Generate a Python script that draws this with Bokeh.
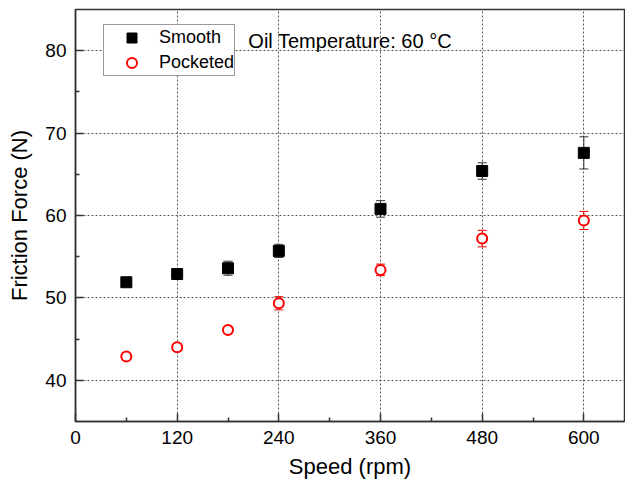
from bokeh.plotting import figure
from bokeh.models import (ColumnDataSource, Whisker, TeeHead, FixedTicker,
                          Legend, LegendItem, Label, Range1d)
from bokeh.embed import file_html
from bokeh.resources import INLINE

# Rotational speed (rpm)
speed = [60, 120, 180, 240, 360, 480, 600]

# Friction force (N) and standard deviation, smooth liner
smooth_force = [51.9, 52.9, 53.6, 55.7, 60.8, 65.4, 67.6]
smooth_err = [0.3, 0.3, 0.85, 0.8, 1.0, 1.0, 1.95]

# Friction force (N) and standard deviation, pocketed liner
pocketed_force = [42.9, 44.0, 46.1, 49.35, 53.4, 57.2, 59.4]
pocketed_err = [0.3, 0.3, 0.3, 0.8, 0.7, 1.0, 1.1]

x_ticks = [0, 120, 240, 360, 480, 600]
x_minor = [60, 180, 300, 420, 540]
y_ticks = [40, 50, 60, 70, 80]
y_minor = [45, 55, 65, 75]

FONT = "Liberation Sans"
AXIS_COLOR = "#333333"

def make_source(y, err):
    return ColumnDataSource(dict(
        x=speed, y=y,
        lower=[v - e for v, e in zip(y, err)],
        upper=[v + e for v, e in zip(y, err)],
    ))

src_s = make_source(smooth_force, smooth_err)
src_p = make_source(pocketed_force, pocketed_err)

p = figure(width=625, height=481, output_backend="svg", toolbar_location=None,
           x_range=Range1d(0, 648), y_range=Range1d(35, 85),
           min_border_left=75, min_border_right=1, min_border_top=9,
           min_border_bottom=57)

p.background_fill_color = "white"
p.border_fill_color = "white"
p.outline_line_color = AXIS_COLOR
p.outline_line_width = 1.5

# grid
for g in (p.xgrid, p.ygrid):
    g.grid_line_color = "#555555"
    g.grid_line_dash = "2 2"
    g.grid_line_width = 1

p.xaxis.ticker = FixedTicker(ticks=x_ticks, minor_ticks=x_minor)
p.yaxis.ticker = FixedTicker(ticks=y_ticks, minor_ticks=y_minor)

for ax in (p.xaxis, p.yaxis):
    ax.axis_line_color = AXIS_COLOR
    ax.axis_line_width = 1.5
    ax.major_tick_line_color = AXIS_COLOR
    ax.minor_tick_line_color = AXIS_COLOR
    ax.major_tick_line_width = 1.5
    ax.minor_tick_line_width = 1.5
    ax.major_tick_in = 8
    ax.major_tick_out = 0
    ax.minor_tick_in = 4
    ax.minor_tick_out = 0
    ax.major_label_text_font = FONT
    ax.major_label_text_font_size = "19px"
    ax.major_label_text_color = "black"
    ax.major_label_standoff = 9
    ax.axis_label_text_font = FONT
    ax.axis_label_text_font_size = "22px"
    ax.axis_label_text_font_style = "normal"
    ax.axis_label_text_color = "black"

p.xaxis.axis_label = "Speed (rpm)"
p.yaxis.axis_label = "Friction Force (N)"
p.xaxis.axis_label_standoff = 7
p.yaxis.axis_label_standoff = 10

# error bars
p.add_layout(Whisker(source=src_s, base="x", lower="lower", upper="upper",
                     line_color="#333333", line_width=1,
                     upper_head=TeeHead(size=9, line_color="#333333", line_width=1),
                     lower_head=TeeHead(size=9, line_color="#333333", line_width=1)))
p.add_layout(Whisker(source=src_p, base="x", lower="lower", upper="upper",
                     line_color="red", line_width=1,
                     upper_head=TeeHead(size=9, line_color="red", line_width=1),
                     lower_head=TeeHead(size=9, line_color="red", line_width=1)))

r_s = p.scatter("x", "y", source=src_s, marker="square", size=11,
                fill_color="black", line_color="black")
r_p = p.scatter("x", "y", source=src_p, marker="circle", size=10,
                fill_color="white", line_color="red", line_width=2)

legend = Legend(items=[LegendItem(label="Smooth", renderers=[r_s]),
                       LegendItem(label="Pocketed", renderers=[r_p])],
                location=(28, 345), orientation="vertical",
                padding=0, margin=0, spacing=0,
                glyph_width=55, glyph_height=25, label_height=21,
                label_standoff=0,
                label_text_font=FONT, label_text_font_size="18px",
                label_text_color="black",
                border_line_color="#333333", border_line_width=1,
                background_fill_color="white", background_fill_alpha=1)
p.add_layout(legend)

p.add_layout(Label(x=204, y=81.2, text="Oil Temperature: 60 °C",
                   text_font=FONT, text_font_size="20px", text_color="black",
                   text_baseline="middle", text_align="left"))

open("out.html", "w").write(file_html(p, INLINE))
